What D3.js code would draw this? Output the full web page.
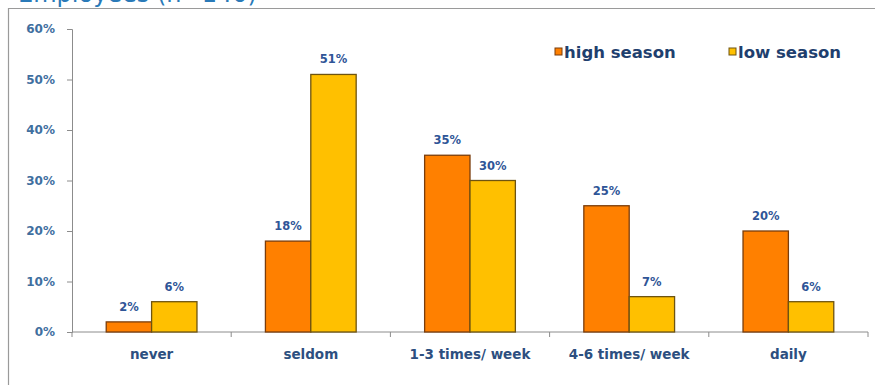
<!DOCTYPE html>
<html>
<head>
<meta charset="utf-8">
<script src="https://cdn.jsdelivr.net/npm/d3@7"></script>
<style>
  html, body { margin: 0; padding: 0; background: #fff; }
  svg { display: block; font-family: "DejaVu Sans", Verdana, sans-serif; }
</style>
</head>
<body>
<svg id="chart" width="875" height="385"></svg>
<script>
// Frequency categories and share of respondents per season (%)
const categories = ["never", "seldom", "1-3 times/ week", "4-6 times/ week", "daily"];
const seriesNames = ["high season", "low season"];
const highSeason = [2, 18, 35, 25, 20];
const lowSeason = [6, 51, 30, 7, 6];
const yTicks = [0, 10, 20, 30, 40, 50, 60];

const colors = { "high season": "#FF8000", "low season": "#FFC000" };
const strokes = { "high season": "#7a3d0c", "low season": "#6e5410" };

const svg = d3.select("#chart");
const W = 875, H = 385;
const margin = { left: 72, right: 7, top: 29, bottom: 53 };

// Title, running off the top edge
svg.append("text")
  .attr("x", 18).attr("y", 2)
  .attr("fill", "#2a7ab8")
  .attr("font-size", 24)
  .attr("font-family", "'DejaVu Sans', Verdana, sans-serif")
  .text("Employees (n=140)");

// Outer frame (top and left edges visible)
svg.append("path")
  .attr("d", `M8.5,${H} V8.5 H${W}`)
  .attr("fill", "none").attr("stroke", "#9a9a9a").attr("stroke-width", 1.2);

const x0 = d3.scaleBand().domain(categories)
  .range([margin.left, W - margin.right]).paddingInner(0.43).paddingOuter(0.215);
const x1 = d3.scaleBand().domain(seriesNames).range([0, x0.bandwidth()]).padding(0);
const y = d3.scaleLinear().domain([0, 60]).range([H - margin.bottom, margin.top]);

// Y axis
const yAxis = d3.axisLeft(y).tickValues(yTicks).tickFormat(d => d + "%").tickSize(5).tickPadding(12);
const gy = svg.append("g").attr("transform", `translate(${margin.left},0)`).call(yAxis);
gy.select(".domain").attr("stroke", "#8c8c8c");
gy.selectAll(".tick line").attr("stroke", "#8c8c8c");
gy.selectAll(".tick text")
  .attr("fill", "#3f6f9f").attr("font-size", 12).attr("font-weight", "bold")
  .attr("font-family", "'DejaVu Sans', Verdana, sans-serif");

// X axis with ticks on category boundaries
const xBase = y(0);
const gx = svg.append("g");
gx.append("line")
  .attr("x1", margin.left).attr("x2", W - margin.right)
  .attr("y1", xBase).attr("y2", xBase)
  .attr("stroke", "#8c8c8c");
const step = x0.step();
const bounds = d3.range(categories.length + 1).map(i => margin.left + i * step);
gx.selectAll("line.b").data(bounds).join("line").attr("class", "b")
  .attr("x1", d => d).attr("x2", d => d)
  .attr("y1", xBase).attr("y2", xBase + 5)
  .attr("stroke", "#8c8c8c");
gx.selectAll("text").data(categories).join("text")
  .attr("x", d => x0(d) + x0.bandwidth() / 2)
  .attr("y", xBase + 27)
  .attr("text-anchor", "middle")
  .attr("fill", "#2d4f80").attr("font-size", 13.5).attr("font-weight", "bold")
  .text(d => d);

// Bars
const rows = categories.map((c, i) => ({
  category: c,
  values: [
    { key: "high season", value: highSeason[i] },
    { key: "low season", value: lowSeason[i] }
  ]
}));

const groups = svg.append("g").selectAll("g").data(rows).join("g")
  .attr("transform", d => `translate(${x0(d.category)},0)`);

groups.selectAll("rect").data(d => d.values).join("rect")
  .attr("x", d => x1(d.key))
  .attr("y", d => y(d.value))
  .attr("width", x1.bandwidth())
  .attr("height", d => y(0) - y(d.value))
  .attr("fill", d => colors[d.key])
  .attr("stroke", d => strokes[d.key])
  .attr("stroke-width", 1.3);

groups.selectAll("text").data(d => d.values).join("text")
  .attr("x", d => x1(d.key) + x1.bandwidth() / 2)
  .attr("y", d => y(d.value) - 11)
  .attr("text-anchor", "middle")
  .attr("fill", "#2f5597").attr("font-size", 11.5).attr("font-weight", "bold")
  .text(d => d.value + "%");

// Legend
const legendX = [555, 729];
const legend = svg.append("g").selectAll("g").data(seriesNames).join("g")
  .attr("transform", (d, i) => `translate(${legendX[i]},48)`);
legend.append("rect")
  .attr("width", 7).attr("height", 7)
  .attr("fill", d => colors[d]).attr("stroke", d => strokes[d]).attr("stroke-width", 1);
legend.append("text")
  .attr("x", 9).attr("y", 10)
  .attr("fill", "#1f3f6e").attr("font-size", 16.5).attr("font-weight", "bold")
  .text(d => d);
</script>
</body>
</html>
